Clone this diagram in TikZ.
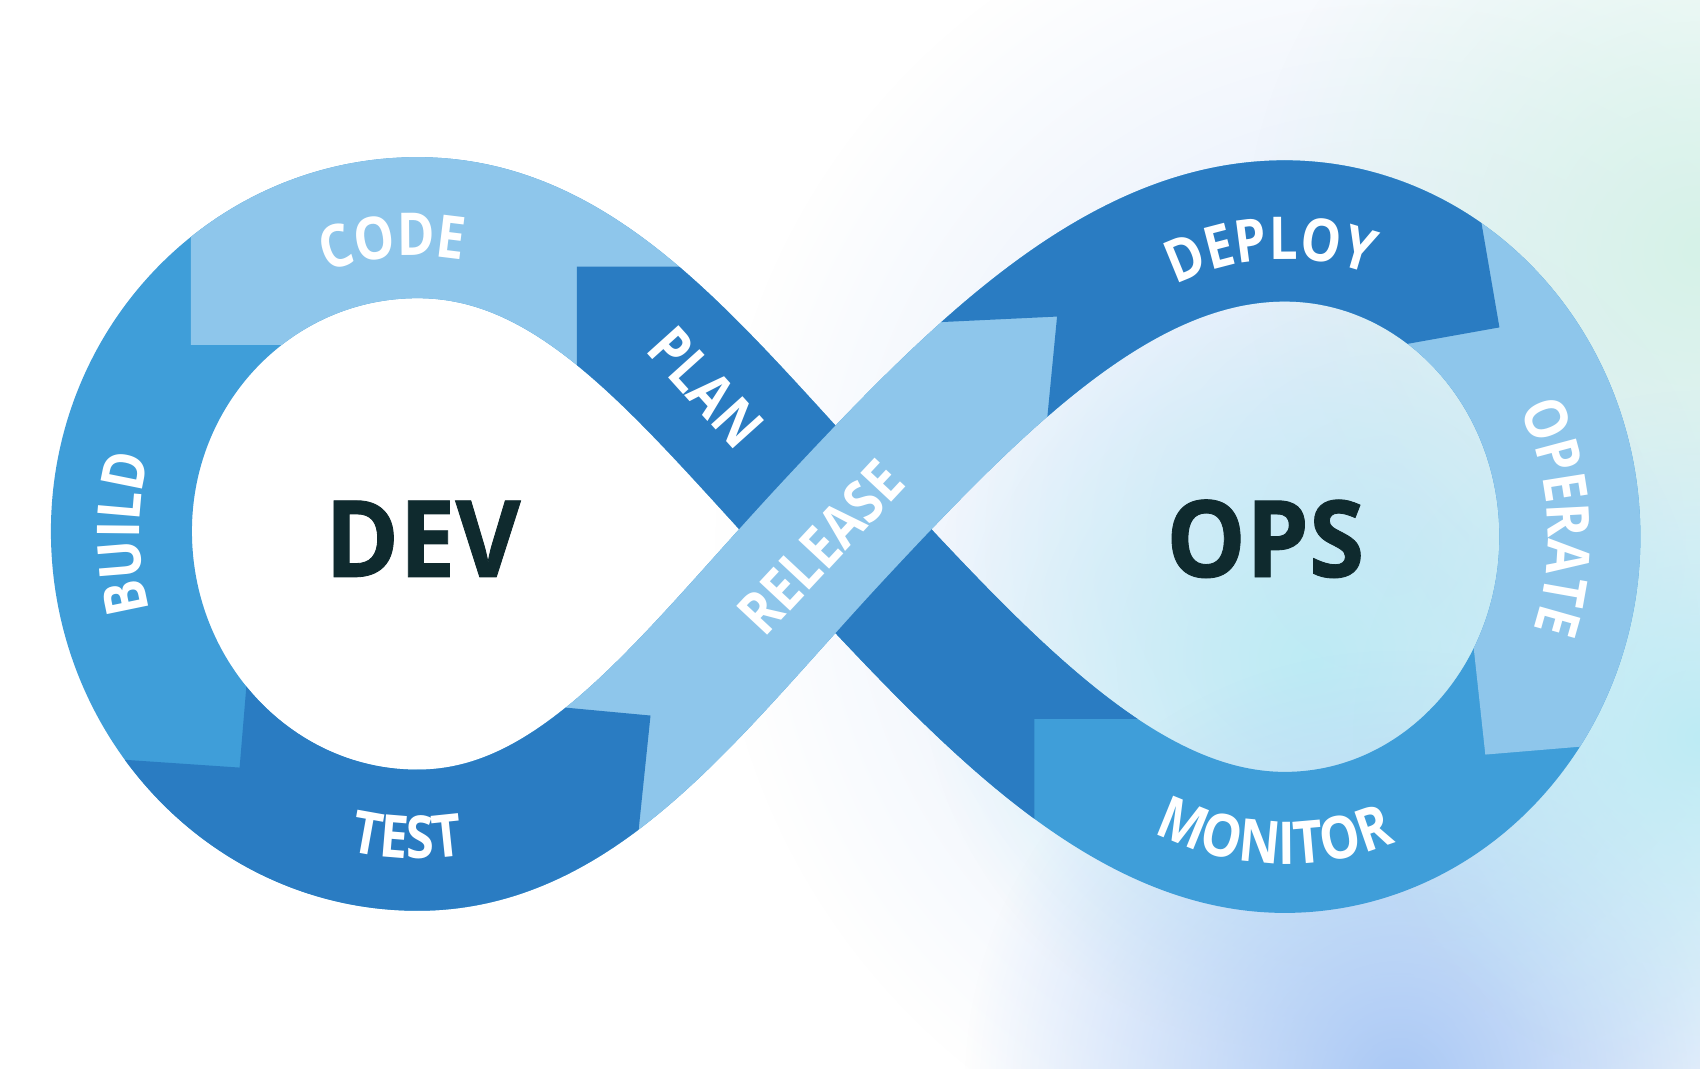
\documentclass[tikz,border=0pt]{standalone}
\usepackage{fontspec}
\setmainfont{Open Sans}
\newfontfamily\lblfam{Open Sans}[FakeStretch=0.86]
\newfontfamily\bigfam{Open Sans}[FakeStretch=0.94, BoldFeatures={FakeBold=0.8}]
\usepackage{xcolor}
\usetikzlibrary{decorations.text,fadings}

\definecolor{bandlight}{HTML}{8EC6EB}
\definecolor{bandmid}{HTML}{3F9ED9}
\definecolor{banddark}{HTML}{2A7CC2}
\definecolor{inkdark}{HTML}{0F2A2E}
\definecolor{hazecyan}{HTML}{BDEBF4}
\definecolor{hazeblue}{HTML}{A9C8F5}
\definecolor{hazegreen}{HTML}{D6F2E8}

\tikzfading[name=haze, inner color=transparent!0, outer color=transparent!100]

\newcommand\lblfont{\lblfam\fontsize{15.5}{17}\selectfont\bfseries}

\begin{document}
\begin{tikzpicture}[x=0.01cm, y=-0.01cm,
    band/.style={line width=1.3cm},
    lbl/.style={font=\lblfont, text=white, inner sep=0pt},
    arclbl/.style={decorate, decoration={text along path, text align=center, text color=white, text={|\lblfont|#1}}},
    loopname/.style={font=\bigfam\fontsize{28}{30}\selectfont\bfseries, text=inkdark, inner sep=0pt}]
    \useasboundingbox (0,0) rectangle (1568,986);
    \fill[white] (0,0) rectangle (1568,986);

    % haze on the right
    \fill[hazeblue!45, path fading=haze] (1280,500) circle (620);
    \fill[hazegreen, path fading=haze] (1568,230) circle (420);
    \fill[hazecyan, path fading=haze] (1210,610) circle (360);
    \fill[hazeblue, path fading=haze] (1290,1000) circle (400);
    \fill[hazecyan, path fading=haze] (1568,680) circle (320);

    % centre line of the band
    \coordinate (X) at (770,488);
    \coordinate (LT) at (385,210);
    \coordinate (LL) at (112,490);
    \coordinate (LB) at (385,775);
    \coordinate (RT) at (1185,213);
    \coordinate (RR) at (1448,495);
    \coordinate (RB) at (1185,777);

    % whole band in mid blue (BUILD, MONITOR)
    \draw[band, bandmid] (X) .. controls (634,342) and (535,210) .. (LT)
        .. controls (234,210) and (112,335) .. (LL)
        .. controls (112,647) and (234,775) .. (LB)
        .. controls (535,775) and (634,634) .. (X)
        .. controls (906,342) and (1035,213) .. (RT)
        .. controls (1330,213) and (1448,339) .. (RR)
        .. controls (1448,651) and (1330,777) .. (RB)
        .. controls (1035,777) and (906,634) .. (X);

    % CODE
    \begin{scope}
        \clip (176,-50) -- (176,318) -- (300,318) -- (300,1000) -- (1600,1000) -- (1600,-50) -- cycle;
        \draw[band, bandlight] (X) .. controls (634,342) and (535,210) .. (LT)
            .. controls (234,210) and (112,335) .. (LL);
    \end{scope}

    % PLAN, under RELEASE
    \begin{scope}
        \clip (532,246) -- (1100,246) -- (1100,663) -- (954,663) -- (954,1000) -- (532,1000) -- cycle;
        \draw[band, banddark] (RB) .. controls (1035,777) and (906,634) .. (X)
            .. controls (634,342) and (535,210) .. (LT);
    \end{scope}

    % OPERATE
    \begin{scope}
        \clip (1100,-50) -- (1100,540) -- (1353,540) -- (1370,696) -- (1454,689) -- (1650,672) -- (1650,-50) -- cycle;
        \draw[band, bandlight] (RT) .. controls (1330,213) and (1448,339) .. (RR)
            .. controls (1448,651) and (1330,777) .. (RB);
    \end{scope}

    % RELEASE
    \draw[band, bandlight] (LB) .. controls (535,775) and (634,634) .. (X)
        .. controls (906,342) and (1035,213) .. (RT);

    % TEST
    \begin{scope}
        \clip (0,693) -- (221,708) -- (227,636) -- (229,600) -- (450,600) -- (450,646) -- (600,660) -- (589,766) -- (585,1000) -- (0,1000) -- cycle;
        \draw[band, banddark] (LL) .. controls (112,647) and (234,775) .. (LB)
            .. controls (535,775) and (634,634) .. (X);
    \end{scope}

    % DEPLOY
    \begin{scope}
        \clip (800,-50) -- (800,300) -- (870,297) -- (975,292) -- (966,385) -- (1260,385) -- (1260,324) -- (1383,302) -- (1367,209) -- (1348,100) -- (1330,-50) -- cycle;
        \draw[band, banddark] (X) .. controls (906,342) and (1035,213) .. (RT)
            .. controls (1330,213) and (1448,339) .. (RR);
    \end{scope}

    % labels
    \node[loopname] (dev) at (390,497) {DEV};
    \node[loopname] (ops) at (1167,497) {OPS};
    \node[lbl, rotate=-48] (plan) at (651,357) {PLAN};
    \node[lbl, rotate=47] (release) at (757,505) {RELEASE};

    \path[arclbl=CODE] (385,492) ++(225:247 and 256) arc[start angle=225, end angle=305, x radius=247, y radius=256];
    \path[arclbl=BUILD] (385,492) ++(150:256 and 265) arc[start angle=150, end angle=210, x radius=256, y radius=265];
    \path[arclbl=TEST] (385,492) ++(132:290 and 300) arc[start angle=132, end angle=52, x radius=290, y radius=300];
    \path[arclbl=DEPLOY] (1185,495) ++(227:238 and 256) arc[start angle=227, end angle=307, x radius=238, y radius=256];
    \path[arclbl=OPERATE] (1185,495) ++(-44:243 and 256) arc[start angle=-44, end angle=36, x radius=243, y radius=256];
    \path[arclbl=MONITOR] (1185,495) ++(137:283 and 302) arc[start angle=137, end angle=47, x radius=283, y radius=302];
\end{tikzpicture}
\end{document}
